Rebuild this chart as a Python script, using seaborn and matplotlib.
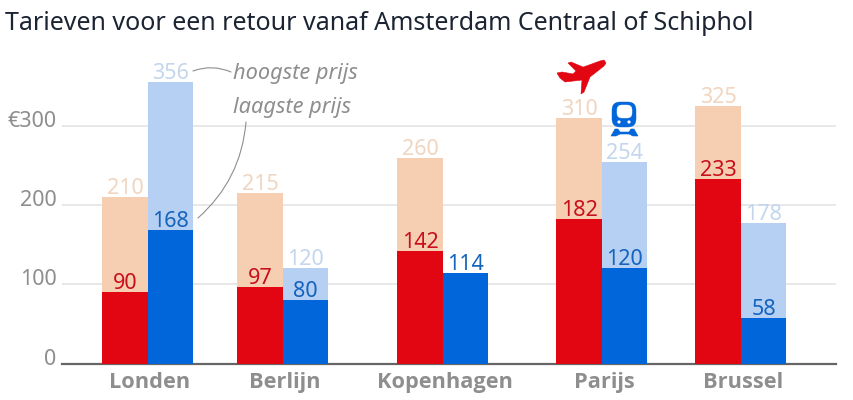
import numpy as np
import pandas as pd
import matplotlib
matplotlib.use('Agg')
import matplotlib.pyplot as plt
from matplotlib.patches import FancyBboxPatch, Circle, Polygon
from matplotlib.transforms import Affine2D, ScaledTranslation
import seaborn as sns

# Data
cities = ['Londen', 'Berlijn', 'Kopenhagen', 'Parijs', 'Brussel']
plane_high = [210, 215, 260, 310, 325]
plane_low = [90, 97, 142, 182, 233]
train_high = [356, 120, np.nan, 254, 178]
train_low = [168, 80, 114, 120, 58]
yticks = [0, 100, 200, 300]
ytick_labels = ['0', '100', '200', '€300']

# Layout: the x axis runs in pixels of the picture, the groups are not evenly spaced
group_x = [148, 283, 443, 602, 741]

COL_PLANE = '#e20613'
COL_PLANE_L = '#f6cfb2'
COL_TRAIN = '#0066d9'
COL_TRAIN_L = '#b5d0f3'
COL_PLANE_T = '#c8101c'
COL_PLANE_LT = '#f0d5c0'
COL_TRAIN_T = '#1463bd'
COL_TRAIN_LT = '#c3d6ee'
GREY = '#8e8e8e'

sns.set_theme(style='white')
plt.rcParams['font.family'] = ['Noto Sans', 'DejaVu Sans']

df = pd.DataFrame({
    'x': group_x * 2,
    'mode': ['vliegtuig'] * 5 + ['trein'] * 5,
    'high': plane_high + train_high,
    'low': plane_low + train_low,
})

fig = plt.figure(figsize=(8.54, 4), dpi=100)
bottom_px, top_px = 363.5, 60
ax = fig.add_axes([62 / 854, (400 - bottom_px) / 400, (836 - 62) / 854, (bottom_px - top_px) / 400])

bar_width = 91 / 135
sns.barplot(data=df, x='x', y='high', hue='mode', hue_order=['vliegtuig', 'trein'],
            palette=[COL_PLANE_L, COL_TRAIN_L], native_scale=True, width=bar_width, saturation=1,
            gap=0, dodge=True, legend=False, errorbar=None, ax=ax, zorder=2, linewidth=0)
sns.barplot(data=df, x='x', y='low', hue='mode', hue_order=['vliegtuig', 'trein'],
            palette=[COL_PLANE, COL_TRAIN], native_scale=True, width=bar_width, saturation=1,
            gap=0, dodge=True, legend=False, errorbar=None, ax=ax, zorder=3, linewidth=0)

ax.set_xlim(62, 836)
ax.set_ylim(0, (bottom_px - top_px) / 0.792)
ax.set_xlabel('')
ax.set_ylabel('')

ax.set_yticks(yticks)
ax.set_yticklabels(ytick_labels, fontsize=15.5, color=GREY)
ax.set_xticks([x + 2 for x in group_x])
ax.set_xticklabels(cities, fontsize=15.7, color=GREY, fontweight='bold', family='Open Sans')
ax.tick_params(axis='x', length=0, pad=6)
ax.tick_params(axis='y', length=0, pad=4)
# y labels sit a little above their gridlines
lift = ScaledTranslation(0, 5 / 72, fig.dpi_scale_trans)
for lab in ax.get_yticklabels():
    lab.set_transform(lab.get_transform() + lift)
ax.grid(axis='y', color='#e2e2e2', lw=1.1, zorder=0)
ax.set_axisbelow(True)
for s in ['top', 'right', 'left']:
    ax.spines[s].set_visible(False)
ax.spines['bottom'].set_color('#666666')
ax.spines['bottom'].set_linewidth(1.6)

# Value labels
half = 45.5 / 2
for i, x in enumerate(group_x):
    for xc, vals, colors in [
        (x - half, (plane_high[i], plane_low[i]), (COL_PLANE_LT, COL_PLANE_T)),
        (x + half, (train_high[i], train_low[i]), (COL_TRAIN_LT, COL_TRAIN_T)),
    ]:
        for v, c in zip(vals, colors):
            if np.isnan(v):
                continue
            ax.text(xc, v - 2.5, f'{v:.0f}', ha='center', va='bottom', fontsize=15.5,
                    color=c, zorder=5)


def px(x, y):
    # picture pixels to figure fraction, for the notes
    return x / 854, 1 - y / 400


# picture pixels to display, for the two icons
pix = Affine2D().scale(1, -1).translate(0, 400)

fig.text(*px(5, 24), 'Tarieven voor een retour vanaf Amsterdam Centraal of Schiphol',
         fontsize=18, color='#1c2433', va='center', ha='left')

# Notes
fig.text(*px(233, 73), 'hoogste prijs', fontsize=15.7, style='italic', color=GREY, va='center')
fig.text(*px(233, 108), 'laagste prijs', fontsize=15.7, style='italic', color=GREY, va='center')
ax.annotate('', xy=px(193, 71), xycoords='figure fraction', xytext=px(231, 72),
            textcoords='figure fraction', zorder=6,
            arrowprops=dict(arrowstyle='-', color=GREY, lw=0.8, connectionstyle='arc3,rad=0.2',
                            shrinkA=0, shrinkB=0))
ax.annotate('', xy=px(198, 218), xycoords='figure fraction', xytext=px(246, 122),
            textcoords='figure fraction', zorder=6,
            arrowprops=dict(arrowstyle='-', color=GREY, lw=0.8, connectionstyle='arc3,rad=-0.2',
                            shrinkA=0, shrinkB=0))


def poly(points, color):
    fig.add_artist(Polygon(points, closed=True, fc=color, ec=color, lw=0.4, transform=pix, zorder=10))


def rounded(x, y, w, h, r, color, z):
    fig.add_artist(FancyBboxPatch((x, y), w, h, boxstyle=f'round,pad=0,rounding_size={r}',
                                  fc=color, ec=color, lw=0.3, transform=pix, zorder=z))


# Plane
poly([(557, 73), (562, 72), (573, 74), (578, 69), (600, 61), (604, 60), (606, 63), (604, 66),
      (590, 77), (584, 92), (581, 94), (582, 80), (565, 82), (560, 78)], COL_PLANE)
poly([(568, 63), (571, 62), (583, 67), (576, 71)], COL_PLANE)

# Train
rounded(612, 102, 24, 25, 8, COL_TRAIN, 10)
rounded(617, 105, 15, 13, 5, 'white', 11)
for cx in [619, 629]:
    fig.add_artist(Circle((cx, 122), 1.6, fc='white', ec='none', transform=pix, zorder=11))
poly([(615, 129), (618, 129), (620, 132), (629, 132), (631, 129), (634, 129), (638, 136),
      (633, 136), (629, 134), (620, 134), (616, 136), (611, 136)], COL_TRAIN)

fig.savefig('out.png', dpi=100)
